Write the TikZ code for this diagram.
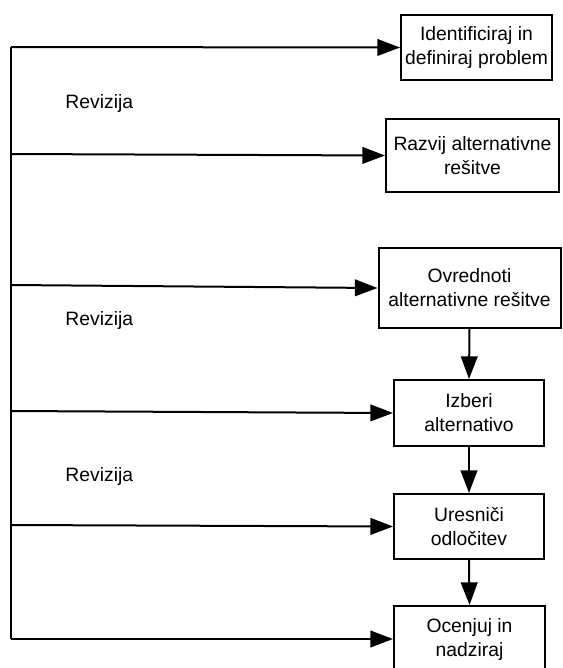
\documentclass[tikz,border=0pt]{standalone}
\usepackage{fontspec}
\setmainfont{Liberation Sans}
\usetikzlibrary{arrows.meta}
\begin{document}
\begin{tikzpicture}[x=0.75pt,y=-0.75pt,
  line width=1.5pt,
  stepbox/.style n args={2}{draw, rectangle, inner sep=0pt, align=center,
    minimum width=#1*0.75pt, minimum height=#2*0.75pt,
    font=\fontsize{14.5}{18}\selectfont},
  flow/.style={-{Triangle[length=17pt,width=12.5pt]}},
  note/.style={font=\fontsize{14.5}{18}\selectfont, anchor=west}]
\useasboundingbox (0,0) rectangle (562,668);

% process steps
\node[stepbox={151}{65}] (b1) at (476.5,47.5)
  {Identificiraj in\\definiraj problem};
\node[stepbox={173}{73}] (b2) at (472.5,155.5)
  {Razvij alternativne\\rešitve};
\node[stepbox={182}{80}] (b3) at (469.5,288)
  {Ovrednoti\\alternativne rešitve};
\node[stepbox={150}{66}] (b4) at (469,413)
  {Izberi\\alternativo};
\node[stepbox={150}{65}] (b5) at (469,526.5)
  {Uresniči\\odločitev};
\node[stepbox={151}{66}] (b6) at (469.5,639)
  {Ocenjuj in\\nadziraj};

% feedback rail on the left
\coordinate (l1) at (11,47);
\coordinate (l2) at (11,154);
\coordinate (l3) at (11,285);
\coordinate (l4) at (11,411);
\coordinate (l5) at (11,525);
\coordinate (l6) at (11,639);
\draw (l1) -- (l6);
\draw[flow] (l1) -- (b1.west);
\draw[flow] (l2) -- (b2.west);
\draw[flow] (l3) -- (b3.west);
\draw[flow] (l4) -- (b4.west);
\draw[flow] (l5) -- (b5.west);
\draw[flow] (l6) -- (b6.west);

% main sequence
\draw[flow] (b3.south) -- (b4.north);
\draw[flow] (b4.south) -- (b5.north);
\draw[flow] (b5.south) -- (b6.north);

% labels
\node[note] (r1) at (60,103) {Revizija};
\node[note] (r2) at (60,320) {Revizija};
\node[note] (r3) at (60,476) {Revizija};
\end{tikzpicture}
\end{document}
